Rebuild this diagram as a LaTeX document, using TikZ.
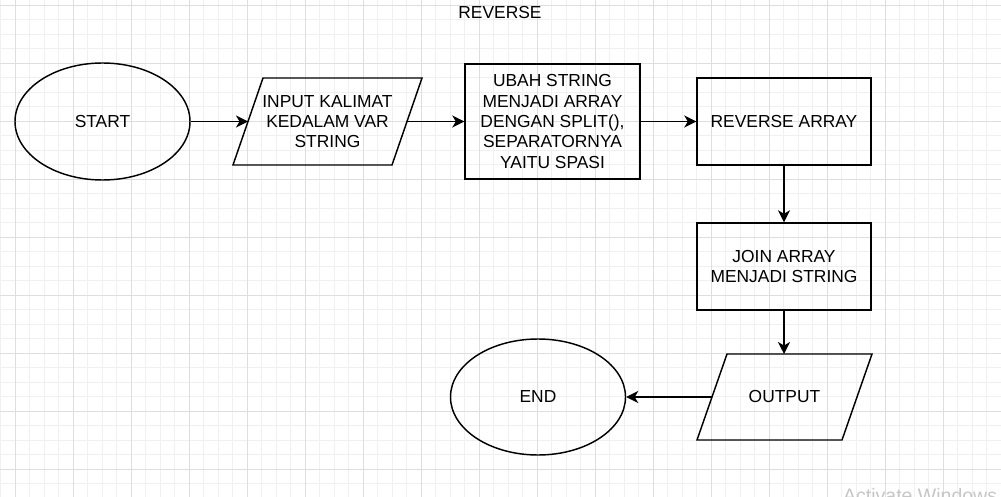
\documentclass[tikz,border=0pt]{standalone}
\usepackage{fontspec}
\setmainfont{Liberation Sans}
\usetikzlibrary{shapes.geometric,arrows.meta}

\definecolor{gridminor}{HTML}{F0F0F0}
\definecolor{gridmajor}{HTML}{DEDEDE}

\begin{document}
\begin{tikzpicture}[x=1pt,y=-1pt,
  every node/.style={font=\fontsize{17.4}{20.3}\selectfont, align=center},
  terminal/.style={ellipse, draw, line width=1.45pt, inner sep=0pt, minimum width=175pt, minimum height=117pt},
  process/.style={rectangle, draw, line width=1.45pt, inner sep=0pt},
  slanted/.style={line width=1.45pt, line join=miter},
  flow/.style={-{Stealth[length=12pt,width=12pt,inset=3.5pt]}, line width=1.45pt}]
\def\picw{1001}
\def\pich{497}

\useasboundingbox (0,0) rectangle (\picw,\pich);
\clip (0,0) rectangle (\picw,\pich);

% GRID
\foreach \gx in {0.5,15,...,1001} \draw[gridminor, line width=0.7pt] (\gx,0) -- (\gx,\pich);
\foreach \gy in {5,19.5,...,497} \draw[gridminor, line width=0.7pt] (0,\gy) -- (\picw,\gy);
\foreach \gx in {15,73,...,1001} \draw[gridmajor, line width=0.8pt] (\gx,0) -- (\gx,\pich);
\foreach \gy in {5,63,...,497} \draw[gridmajor, line width=0.8pt] (0,\gy) -- (\picw,\gy);

\node (title) at (500,13) {REVERSE};

% FIRST ROW
\node[terminal] (start) at (102.5,121.5) {START};

\draw[slanted] (233,165) -- (263,78) -- (422,78) -- (392,165) -- cycle; % input box
\node (input) at (327.5,121.5) {INPUT KALIMAT\\KEDALAM VAR\\STRING};
\coordinate (inputleft) at (248,121.5);
\coordinate (inputright) at (407,121.5);

\node[process, minimum width=175pt, minimum height=115pt] (split) at (552.5,121.5) {UBAH STRING\\MENJADI ARRAY\\DENGAN SPLIT(),\\SEPARATORNYA\\YAITU SPASI};
\node[process, minimum width=174pt, minimum height=87pt] (reverse) at (784,121.5) {REVERSE ARRAY};

% RIGHT COLUMN
\node[process, minimum width=174pt, minimum height=87pt] (join) at (784,266.5) {JOIN ARRAY\\MENJADI STRING};

\draw[slanted] (697,440) -- (727,354) -- (872,354) -- (842,440) -- cycle; % output box
\node (output) at (784.5,397) {OUTPUT};
\coordinate (outputtop) at (784,354);
\coordinate (outputleft) at (712,397);

\node[terminal, minimum height=116pt] (stop) at (538,397) {END};

\draw[flow] (start) -- (inputleft);
\draw[flow] (inputright) -- (split);
\draw[flow] (split) -- (reverse);
\draw[flow] (reverse) -- (join);
\draw[flow] (join) -- (outputtop);
\draw[flow] (outputleft) -- (stop);

\node[anchor=base west, inner sep=0pt, text=gray!45, font=\fontsize{19.5}{20}\selectfont] (watermark) at (843,502) {Activate Windows};
\end{tikzpicture}
\end{document}
